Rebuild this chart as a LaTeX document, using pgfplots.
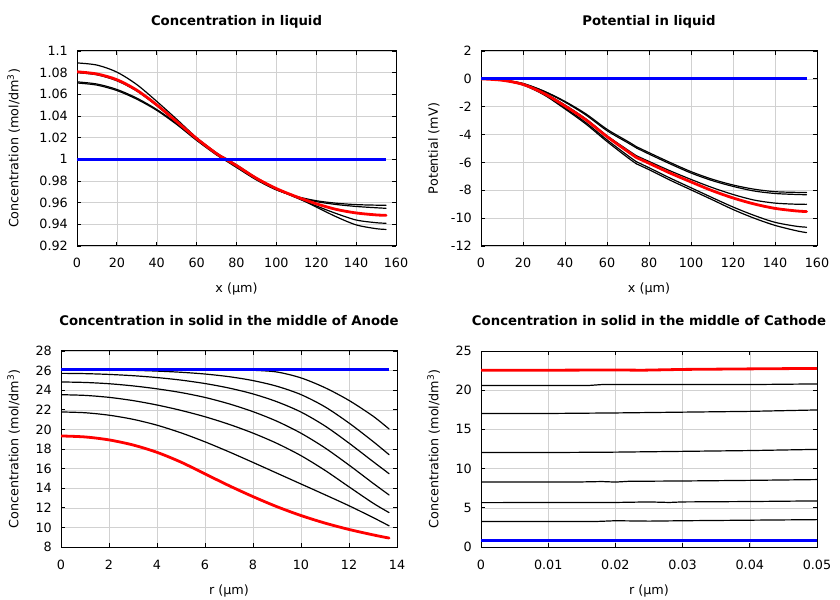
\documentclass[border=0pt]{standalone}
\usepackage{fontspec}
\setmainfont{DejaVu Sans}
\usepackage{pgfplots}
\pgfplotsset{compat=1.18}
\pgfplotsset{
  myax/.style={
    scale only axis,
    axis line style={line width=1bp},
    tick align=inside, xtick pos=both, ytick pos=both,
    major tick length=4bp,
    tick style={line width=0.8bp, black},
    grid=major, major grid style={line width=0.5bp, color=black!18},
    /pgf/number format/assume math mode=true,
    scaled ticks=false,
    tick label style={font=\fontsize{12.8}{15}\selectfont},
    label style={font=\fontsize{12.8}{15}\selectfont},
    title style={font=\fontsize{13.3}{16}\selectfont\bfseries, at={(0.5,1)}, anchor=base, yshift=20bp},
    xticklabel style={anchor=base, inner sep=0pt, yshift=-22bp},
    yticklabel style={anchor=east, inner sep=0pt, xshift=-9bp},
    xlabel style={at={(axis description cs:0.5,0)}, anchor=base, yshift=-47bp},
  },
  blk/.style={black, line width=1.2bp, no marks, smooth, line cap=round, line join=round},
  rd/.style={red, line width=2.8bp, no marks, smooth, line cap=round, line join=round},
  bl/.style={blue, line width=2.8bp, no marks},
}
\begin{document}
\begin{tikzpicture}
\useasboundingbox (0,0) rectangle (840bp,600bp);
% ---------- Plot 1
\begin{axis}[myax, at={(77bp,354bp)}, anchor=south west, width=319bp, height=195bp,
  xmin=0, xmax=160, ymin=0.92, ymax=1.1,
  xtick={0,20,40,60,80,100,120,140,160},
  ytick={0.92,0.94,0.96,0.98,1,1.02,1.04,1.06,1.08,1.1},
  title={Concentration in liquid}, xlabel={x (µm)},
  ylabel={Concentration (mol/dm\textsuperscript{3})},
  ylabel style={at={(axis description cs:-0.184,0.5)}, anchor=base},
]
\addplot[blk] coordinates {(0,1.089)(10,1.087)(20,1.0805)(30,1.069)(40,1.0535)(50,1.037)(60,1.020)(70,1.006)(74,1.0015)};
\addplot[blk] coordinates {(74,1.0015)(80,0.995)(90,0.983)(100,0.973)(110,0.965)(120,0.956)(130,0.947)(140,0.9395)(150,0.936)(155,0.9353)};
\addplot[blk] coordinates {(0,1.0800)(10,1.078)(20,1.0725)(30,1.063)(40,1.0495)(50,1.034)(60,1.019)(70,1.005)(74,1.0008)};
\addplot[blk] coordinates {(74,1.0008)(80,0.994)(90,0.982)(100,0.9725)(110,0.9645)(120,0.957)(130,0.950)(140,0.944)(150,0.9415)(155,0.941)};
\addplot[blk] coordinates {(0,1.0715)(10,1.0695)(20,1.0645)(30,1.0565)(40,1.046)(50,1.033)(60,1.018)(70,1.0045)(74,1.0)};
\addplot[blk] coordinates {(74,1.0)(80,0.993)(90,0.9815)(100,0.972)(110,0.9655)(120,0.961)(130,0.9583)(140,0.9565)(150,0.9553)(155,0.9548)};
\addplot[blk] coordinates {(0,1.0705)(10,1.0685)(20,1.0635)(30,1.0555)(40,1.0452)(50,1.0322)(60,1.0175)(70,1.004)(74,0.9995)};
\addplot[blk] coordinates {(74,0.9995)(80,0.9925)(90,0.981)(100,0.9718)(110,0.9658)(120,0.9618)(130,0.9595)(140,0.9582)(150,0.9577)(155,0.9576)};
\addplot[rd] coordinates {(0,1.0808)(10,1.0788)(20,1.0735)(30,1.0638)(40,1.0503)(50,1.0348)(60,1.0192)(70,1.0052)(74,1.0008)};
\addplot[rd] coordinates {(74,1.0008)(80,0.9942)(90,0.9825)(100,0.973)(110,0.9655)(120,0.959)(130,0.9538)(140,0.9505)(150,0.9487)(155,0.9483)};
\addplot[bl] coordinates {(0,1)(155,1)};
\end{axis}
% ---------- Plot 2
\begin{axis}[myax, at={(481bp,354bp)}, anchor=south west, width=336bp, height=195bp,
  xmin=0, xmax=160, ymin=-12, ymax=2,
  xtick={0,20,40,60,80,100,120,140,160},
  ytick={-12,-10,-8,-6,-4,-2,0,2},
  title={Potential in liquid}, xlabel={x (µm)},
  ylabel={Potential (mV)},
  ylabel style={at={(axis description cs:-0.128,0.5)}, anchor=base},
]
\addplot[blk] coordinates {(0,0)(10,-0.08)(20,-0.33)(30,-0.88)(40,-1.62)(50,-2.52)(60,-3.62)(70,-4.5)(74,-4.87)};
\addplot[blk] coordinates {(74,-4.87)(80,-5.3)(90,-6.0)(100,-6.66)(110,-7.2)(120,-7.62)(130,-7.92)(140,-8.1)(150,-8.15)(155,-8.16)};
\addplot[blk] coordinates {(0,0)(10,-0.08)(20,-0.34)(30,-0.9)(40,-1.67)(50,-2.6)(60,-3.72)(70,-4.6)(74,-4.96)};
\addplot[blk] coordinates {(74,-4.96)(80,-5.4)(90,-6.1)(100,-6.76)(110,-7.3)(120,-7.72)(130,-8.05)(140,-8.23)(150,-8.3)(155,-8.32)};
\addplot[blk] coordinates {(0,0)(10,-0.09)(20,-0.38)(30,-1.0)(40,-1.88)(50,-2.88)(60,-4.08)(70,-5.12)(74,-5.52)};
\addplot[blk] coordinates {(74,-5.52)(80,-5.93)(90,-6.6)(100,-7.22)(110,-7.8)(120,-8.3)(130,-8.7)(140,-8.92)(150,-9.0)(155,-9.01)};
\addplot[blk] coordinates {(0,0)(10,-0.1)(20,-0.42)(30,-1.1)(40,-2.08)(50,-3.15)(60,-4.38)(70,-5.52)(74,-5.95)};
\addplot[blk] coordinates {(74,-5.95)(80,-6.38)(90,-7.12)(100,-7.82)(110,-8.52)(120,-9.2)(130,-9.8)(140,-10.3)(150,-10.58)(155,-10.65)};
\addplot[blk] coordinates {(0,0)(10,-0.11)(20,-0.44)(30,-1.15)(40,-2.16)(50,-3.25)(60,-4.5)(70,-5.67)(74,-6.1)};
\addplot[blk] coordinates {(74,-6.1)(80,-6.52)(90,-7.27)(100,-7.97)(110,-8.67)(120,-9.38)(130,-10.0)(140,-10.52)(150,-10.9)(155,-11.04)};
\addplot[rd] coordinates {(0,0)(10,-0.1)(20,-0.4)(30,-1.05)(40,-1.95)(50,-2.95)(60,-4.15)(70,-5.23)(74,-5.65)};
\addplot[rd] coordinates {(74,-5.65)(80,-6.06)(90,-6.76)(100,-7.4)(110,-8.02)(120,-8.55)(130,-8.98)(140,-9.3)(150,-9.48)(155,-9.53)};
\addplot[bl] coordinates {(0,0)(155,0)};
\end{axis}
% ---------- Plot 3
\begin{axis}[myax, at={(61bp,53bp)}, anchor=south west, width=336bp, height=196bp,
  xmin=0, xmax=14, ymin=8, ymax=28,
  xtick={0,2,4,6,8,10,12,14},
  ytick={8,10,12,14,16,18,20,22,24,26,28},
  title={Concentration in solid in the middle of Anode}, xlabel={r (µm)},
  ylabel={Concentration (mol/dm\textsuperscript{3})},
  ylabel style={at={(axis description cs:-0.127,0.5)}, anchor=base},
]
\addplot[blk] coordinates {(0,26.15)(1,26.15)(2,26.15)(3,26.15)(4,26.15)(5,26.145)(6,26.135)(7,26.105)(8,26.035)(9,25.855)(10,25.255)(11,24.255)(12,22.955)(13,21.355)(13.67,20.04)};
\addplot[blk] coordinates {(0,26.12)(1,26.11)(2,26.08)(3,26.03)(4,25.95)(5,25.83)(6,25.65)(7,25.38)(8,24.98)(9,24.4)(10,23.55)(11,22.3)(12,20.65)(13,18.77)(13.67,17.42)};
\addplot[blk] coordinates {(0,25.72)(1,25.69)(2,25.61)(3,25.48)(4,25.29)(5,25.03)(6,24.68)(7,24.22)(8,23.62)(9,22.82)(10,21.77)(11,20.35)(12,18.6)(13,16.72)(13.67,15.48)};
\addplot[blk] coordinates {(0,24.84)(1,24.79)(2,24.66)(3,24.44)(4,24.14)(5,23.76)(6,23.26)(7,22.61)(8,21.81)(9,20.83)(10,19.61)(11,18.11)(12,16.36)(13,14.51)(13.67,13.31)};
\addplot[blk] coordinates {(0,23.54)(1,23.47)(2,23.27)(3,22.94)(4,22.49)(5,21.94)(6,21.29)(7,20.52)(8,19.62)(9,18.57)(10,17.32)(11,15.82)(12,14.14)(13,12.48)(13.67,11.51)};
\addplot[blk] coordinates {(0,21.78)(1,21.7)(2,21.45)(3,21.03)(4,20.43)(5,19.65)(6,18.73)(7,17.71)(8,16.63)(9,15.53)(10,14.43)(11,13.33)(12,12.21)(13,11.01)(13.67,10.16)};
\addplot[rd] coordinates {(0,19.33)(1,19.23)(2,18.93)(3,18.41)(4,17.66)(5,16.66)(6,15.46)(7,14.26)(8,13.14)(9,12.11)(10,11.21)(11,10.44)(12,9.79)(13,9.24)(13.67,8.91)};
\addplot[bl] coordinates {(0,26.15)(13.67,26.15)};
\end{axis}
% ---------- Plot 4
\begin{axis}[myax, at={(481bp,53bp)}, anchor=south west, width=336bp, height=196bp,
  xmin=0, xmax=0.05, ymin=0, ymax=25,
  xtick={0,0.01,0.02,0.03,0.04,0.05},
  xticklabels={0,0.01,0.02,0.03,0.04,0.05},
  ytick={0,5,10,15,20,25},
  title={Concentration in solid in the middle of Cathode}, xlabel={r (µm)},
  ylabel={Concentration (mol/dm\textsuperscript{3})},
  ylabel style={at={(axis description cs:-0.127,0.5)}, anchor=base},
]
\addplot[blk, sharp plot] coordinates {(0,20.6)(0.016,20.6)(0.018,20.72)(0.03,20.72)(0.04,20.72)(0.05,20.8)};
\addplot[blk, sharp plot] coordinates {(0,17.03)(0.01,17.03)(0.02,17.1)(0.03,17.2)(0.04,17.3)(0.05,17.48)};
\addplot[blk, sharp plot] coordinates {(0,12.05)(0.01,12.05)(0.02,12.1)(0.03,12.2)(0.04,12.3)(0.05,12.45)};
\addplot[blk, sharp plot] coordinates {(0,8.3)(0.015,8.3)(0.018,8.35)(0.02,8.28)(0.022,8.38)(0.03,8.42)(0.04,8.5)(0.05,8.6)};
\addplot[blk, sharp plot] coordinates {(0,5.66)(0.02,5.68)(0.025,5.75)(0.028,5.68)(0.03,5.75)(0.04,5.8)(0.05,5.88)};
\addplot[blk, sharp plot] coordinates {(0,3.25)(0.017,3.25)(0.02,3.35)(0.025,3.3)(0.03,3.35)(0.04,3.42)(0.05,3.49)};
\addplot[rd, sharp plot] coordinates {(0,22.55)(0.01,22.55)(0.02,22.58)(0.024,22.55)(0.03,22.65)(0.04,22.72)(0.05,22.78)};
\addplot[bl] coordinates {(0,0.8)(0.05,0.8)};
\end{axis}
\end{tikzpicture}
\end{document}
